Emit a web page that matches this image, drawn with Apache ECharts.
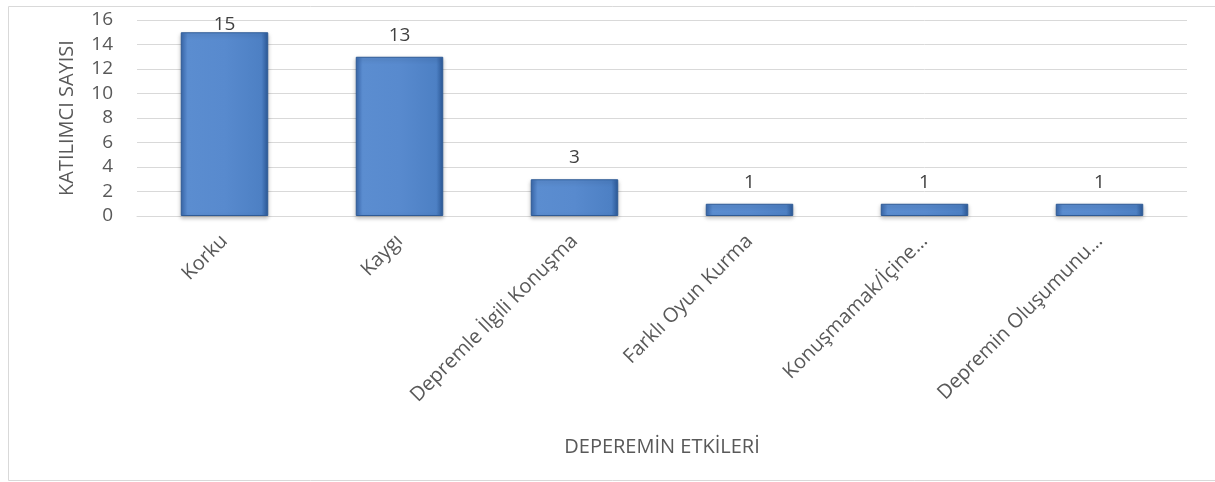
<!DOCTYPE html>
<html>
<head>
<meta charset="utf-8">
<script src="https://cdn.jsdelivr.net/npm/echarts@6/dist/echarts.min.js"></script>
<style>
  html, body { margin: 0; padding: 0; background: #fff; }
  #chart { width: 1215px; height: 482px; }
</style>
</head>
<body>
<div id="chart"></div>
<script>
const categories = ['Korku', 'Kaygı', 'Depremle İlgili Konuşma', 'Farklı Oyun Kurma', 'Konuşmamak/İçine…', 'Depremin Oluşumunu…']
const values = [15, 13, 3, 1, 1, 1]
const yTicks = [0, 2, 4, 6, 8, 10, 12, 14, 16]

const font = '"Open Sans", "Noto Sans", sans-serif'
const textColor = '#595959'

let myChart = echarts.init(document.getElementById('chart'))

// bevelled excel-ish bar fill
const barFill = new echarts.graphic.LinearGradient(0, 0, 1, 0, [
  { offset: 0, color: '#3a69ad' },
  { offset: 0.08, color: '#5b8dd0' },
  { offset: 0.5, color: '#588ace' },
  { offset: 0.92, color: '#4d80c4' },
  { offset: 1, color: '#2c5a9a' }
])

let seriesData = values.map(function (v) {
  let item = { value: v }
  // excel pulls the top label down when it would leave the plot
  if (v === yTicks[yTicks.length - 1] - 1) {
    item.label = { distance: -2 }
  }
  return item
})

let option = {
  animation: false,
  textStyle: { fontFamily: font },
  graphic: [{
    type: 'rect',
    shape: { x: 8.5, y: 6.5, width: 1220, height: 474 },
    style: { fill: 'none', stroke: '#d9d9d9', lineWidth: 1 },
    silent: true
  }],
  grid: {
    left: 137,
    right: 28,
    top: 20,
    bottom: 266,
    containLabel: false
  },
  xAxis: {
    type: 'category',
    data: categories,
    name: 'DEPEREMİN ETKİLERİ',
    nameLocation: 'middle',
    nameGap: 221,
    nameTextStyle: { fontSize: 20, color: textColor, fontFamily: font, verticalAlign: 'top' },
    axisLine: { show: true, lineStyle: { color: '#d9d9d9' } },
    axisTick: { show: false },
    axisLabel: {
      interval: 0,
      rotate: 45,
      margin: 22,
      fontSize: 20,
      color: textColor,
      fontFamily: font
    }
  },
  yAxis: {
    type: 'value',
    min: yTicks[0],
    max: yTicks[yTicks.length - 1],
    interval: yTicks[1] - yTicks[0],
    name: 'KATILIMCI SAYISI',
    nameLocation: 'middle',
    nameGap: 60,
    nameRotate: 90,
    nameTextStyle: { fontSize: 20, color: textColor, fontFamily: font },
    axisLine: { show: false },
    axisTick: { show: false },
    axisLabel: { fontSize: 19, color: textColor, margin: 24, fontFamily: font },
    splitLine: { lineStyle: { color: '#d9d9d9', width: 1 } }
  },
  series: [{
    type: 'bar',
    data: seriesData,
    barWidth: '50%',
    itemStyle: {
      color: barFill,
      borderColor: '#2f5b96',
      borderWidth: 1,
      shadowBlur: 4,
      shadowColor: 'rgba(0,0,0,0.25)',
      shadowOffsetY: 2
    },
    label: {
      show: true,
      position: 'top',
      distance: 12,
      fontSize: 19,
      color: '#404040',
      fontFamily: font
    }
  }]
}

myChart.setOption(option)
</script>
</body>
</html>
